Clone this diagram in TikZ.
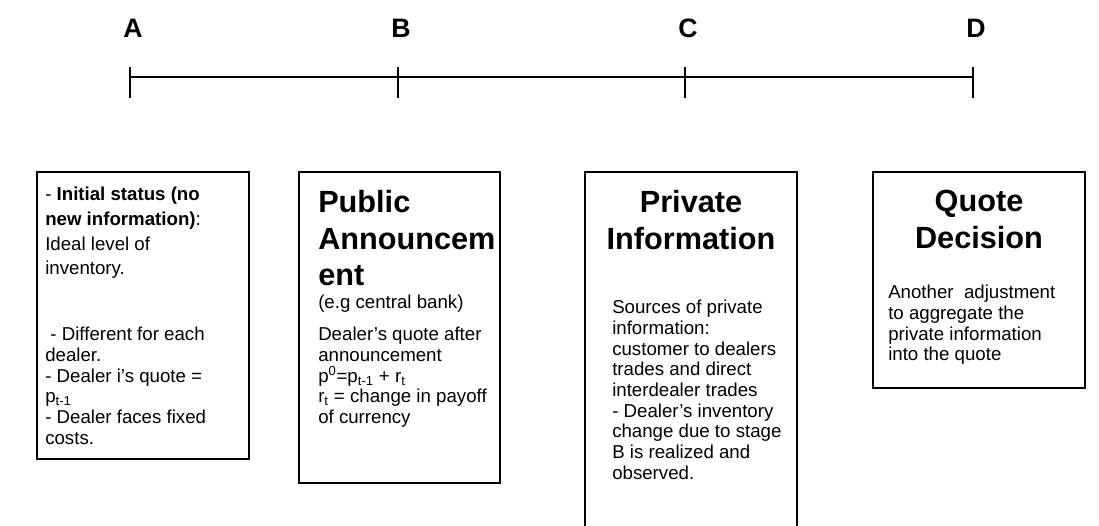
\documentclass[tikz,border=0pt]{standalone}
\usepackage{fontspec}
\setmainfont{Liberation Sans}
\usetikzlibrary{positioning}
\begin{document}
\begin{tikzpicture}[x=0.75pt,y=-0.75pt,
	stage/.style={inner sep=0pt,font=\fontsize{20}{24}\selectfont\bfseries},
	head/.style={inner sep=0pt,align=center,font=\fontsize{23}{27.5}\selectfont\bfseries},
	body/.style={inner sep=0pt,anchor=north west,align=left,font=\fontsize{14}{15.5}\selectfont},
	frame/.style={line width=1pt}]
	\useasboundingbox (0,0) rectangle (1099,525);
	% time line
	\draw[line width=1.5pt] (130,77) -- (973,77);
	\foreach \x/\l in {130/A,398/B,685/C,973/D}{
		\draw[line width=0.9pt] (\x,67) -- (\x,98);
		\node[stage] (lab\l) at (\x+3,28) {\l};
	}
	% boxes
	\draw[frame] (37,172) rectangle (249,459);
	\draw[frame] (299,172) rectangle (500,483);
	\draw[frame] (585,530) -- (585,172) -- (797,172) -- (797,530);
	\draw[frame] (873,172) rectangle (1085,388);
	% box A
	\node[body,font=\fontsize{14}{18.5}\selectfont] (txtA) at (45,187) {- \textbf{Initial status (no}\\ \textbf{new information)}:\\ Ideal level of\\ inventory.};
	\node[body,below=36pt of txtA.south west,anchor=north west] (txtAb) {\ - Different for each\\ dealer.\\ - Dealer i’s quote =\\ p\textsubscript{t-1}\\ - Dealer faces fixed\\ costs.};
	% box B
	\node[head,anchor=north west,align=left] (headB) at (318,190) {Public\\ Announcem\\ ent};
	\node[body,below=6pt of headB.south west,anchor=north west] (txtB) {(e.g central bank)\\[9pt] Dealer’s quote after\\ announcement\\ p\textsuperscript{0}=p\textsubscript{t-1} + r\textsubscript{t}\\ r\textsubscript{t} = change in payoff\\ of currency};
	% box C
	\node[head,anchor=north] (headC) at (691,190) {Private\\ Information};
	\node[body] (txtC) at (612,300) {Sources of private\\ information:\\ customer to dealers\\ trades and direct\\ interdealer trades\\ - Dealer’s inventory\\ change due to stage\\ B is realized and\\ observed.};
	% box D
	\node[head,anchor=north] (headD) at (979,190) {Quote\\ Decision};
	\node[body] (txtD) at (888,285) {Another\ \ adjustment\\ to aggregate the\\ private information\\ into the quote};
\end{tikzpicture}
\end{document}
